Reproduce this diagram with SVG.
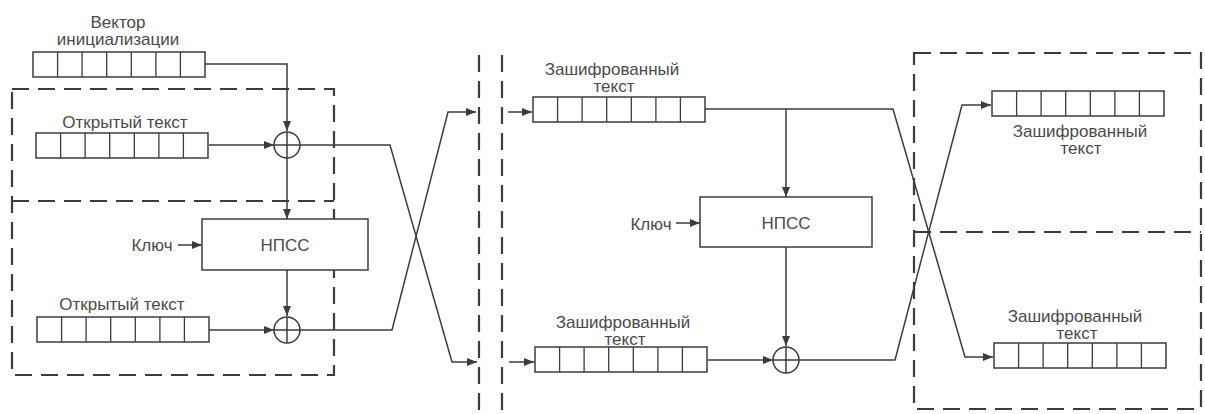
<svg xmlns="http://www.w3.org/2000/svg" xmlns:xlink="http://www.w3.org/1999/xlink" width="1205" height="414" viewBox="0 0 1205 414">
<style>
.t{font-family:"Liberation Sans",Arial,sans-serif;font-size:17px;fill:#4a4a4a;text-anchor:middle}
.c{fill:none;stroke:#3c3c3c;stroke-width:1.5}
.d{fill:none;stroke:#3c3c3c;stroke-width:2.2;stroke-dasharray:17 9}
.b{fill:#fff;stroke:#3c3c3c;stroke-width:1.5}
.x{fill:#fff;stroke:#3c3c3c;stroke-width:1.5}
</style>
<defs>
<marker id="ah" viewBox="0 0 10 8" refX="10" refY="4" markerWidth="10" markerHeight="8" markerUnits="userSpaceOnUse" orient="auto">
<path d="M0,0 L10,4 L0,8 Z" fill="#3c3c3c"/>
</marker>
<g id="reg">
<rect x="0" y="0" width="172" height="25" fill="#fff" stroke="#3c3c3c" stroke-width="1.5"/>
<path d="M24.6,0V25M49.1,0V25M73.7,0V25M98.3,0V25M122.9,0V25M147.4,0V25" stroke="#3c3c3c" stroke-width="1.3"/>
</g>
<g id="xor">
<circle cx="0" cy="0" r="13" class="x"/>
<path d="M-13,0H13M0,-13V13" stroke="#3c3c3c" stroke-width="1.5"/>
</g>
</defs>
<rect width="1205" height="414" fill="#fff"/>

<g id="frames">
<rect x="12" y="89" width="322" height="286" class="d"/>
<line x1="12" y1="201" x2="334" y2="201" class="d"/>
<line x1="479" y1="55" x2="479" y2="414" class="d"/>
<line x1="502" y1="55" x2="502" y2="414" class="d"/>
<rect x="914" y="53" width="287" height="356" class="d"/>
<line x1="914" y1="232" x2="1201" y2="232" class="d"/>
</g>

<g id="connectors">
<path d="M205,64 H287 V131" class="c" marker-end="url(#ah)"/>
<path d="M209,145 H274" class="c" marker-end="url(#ah)"/>
<path d="M287,158 V219" class="c" marker-end="url(#ah)"/>
<path d="M178,245 H202" class="c" marker-end="url(#ah)"/>
<path d="M287,270 V316" class="c" marker-end="url(#ah)"/>
<path d="M209,330 H274" class="c" marker-end="url(#ah)"/>
<path d="M300,145 H390 L452,362 H477" class="c" marker-end="url(#ah)"/>
<path d="M300,330 H392 L448,112 H476" class="c" marker-end="url(#ah)"/>
<path d="M508,112 H532" class="c" marker-end="url(#ah)"/>
<path d="M509,362 H534" class="c" marker-end="url(#ah)"/>
<path d="M705,109 H893 L965,357 H993" class="c" marker-end="url(#ah)"/>
<path d="M786,109 V197" class="c" marker-end="url(#ah)"/>
<path d="M676,223 H700" class="c" marker-end="url(#ah)"/>
<path d="M786,247 V346" class="c" marker-end="url(#ah)"/>
<path d="M708,360 H773" class="c" marker-end="url(#ah)"/>
<path d="M799,360 H895 L962,105 H991" class="c" marker-end="url(#ah)"/>
</g>

<g id="iv">
<text class="t" x="118" y="28">Вектор</text>
<text class="t" x="118" y="45">инициализации</text>
<use xlink:href="#reg" x="33" y="52"/>
</g>
<g id="plain1">
<text class="t" x="125" y="128">Открытый текст</text>
<use xlink:href="#reg" x="36" y="133"/>
</g>
<g id="xor1"><use xlink:href="#xor" x="287" y="145"/></g>
<g id="npss1">
<rect x="202" y="219" width="166" height="51" class="b"/>
<text class="t" x="285" y="251">НПСС</text>
</g>
<g id="key1"><text class="t" x="152" y="251">Ключ</text></g>
<g id="plain2">
<text class="t" x="122" y="310">Открытый текст</text>
<use xlink:href="#reg" x="37" y="317"/>
</g>
<g id="xor2"><use xlink:href="#xor" x="287" y="330"/></g>

<g id="cipher1">
<text class="t" x="612" y="75">Зашифрованный</text>
<text class="t" x="614" y="92">текст</text>
<use xlink:href="#reg" x="533" y="97"/>
</g>
<g id="npss2">
<rect x="700" y="197" width="172" height="50" class="b"/>
<text class="t" x="786" y="229">НПСС</text>
</g>
<g id="key2"><text class="t" x="651" y="230">Ключ</text></g>
<g id="cipher2">
<text class="t" x="623" y="328">Зашифрованный</text>
<text class="t" x="625" y="345">текст</text>
<use xlink:href="#reg" x="535" y="347"/>
</g>
<g id="xor3"><use xlink:href="#xor" x="786" y="360"/></g>

<g id="cipher3">
<use xlink:href="#reg" x="992" y="91"/>
<text class="t" x="1080" y="137">Зашифрованный</text>
<text class="t" x="1081" y="154">текст</text>
</g>
<g id="cipher4">
<text class="t" x="1075" y="322">Зашифрованный</text>
<text class="t" x="1077" y="339">текст</text>
<use xlink:href="#reg" x="994" y="343"/>
</g>
</svg>
